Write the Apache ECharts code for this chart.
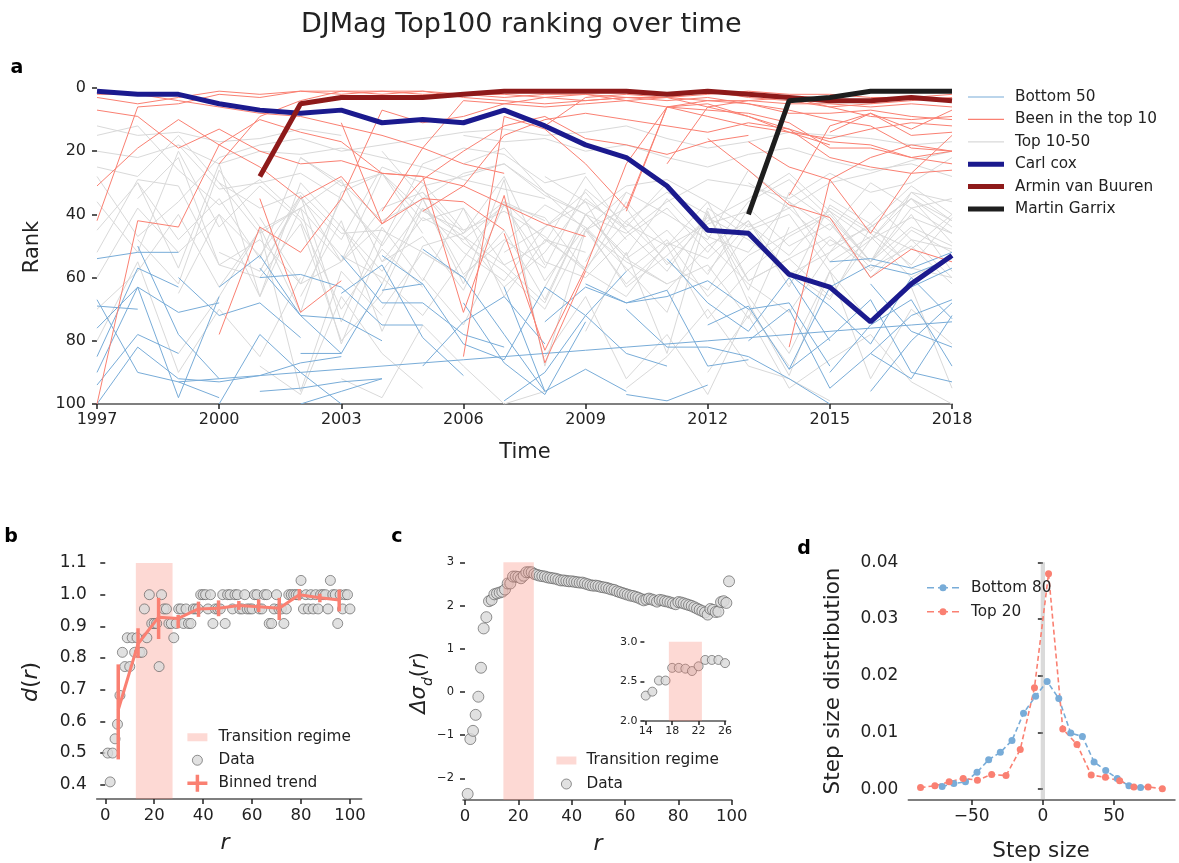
<!DOCTYPE html>
<html><head><meta charset="utf-8">
<script src="https://cdn.jsdelivr.net/npm/echarts@6/dist/echarts.min.js"></script>
<style>html,body{margin:0;padding:0;background:#fff}#c{width:1179px;height:863px}</style>
</head><body><div id="c"></div>
<script>
// ---------------- Panel a data ----------------
const firstYear = 1997;
const yearTicks = [1997, 2000, 2003, 2006, 2009, 2012, 2015, 2018];
const rankTicks = [0, 20, 40, 60, 80, 100];
const carlCoxStart = 1997;
const carlCox = [1, 2, 2, 5, 7, 8, 7, 11, 10, 11, 7, 12, 18, 22, 31, 45, 46, 59, 63, 74, 62, 53];
const arminStart = 2001;
const arminVanBuuren = [28, 5, 3, 3, 3, 2, 1, 1, 1, 1, 2, 1, 2, 3, 4, 4, 3, 4];
const garrixStart = 2013;
const martinGarrix = [40, 4, 3, 1, 1, 1];
// [start year, ranks]
const redLines = [
  [1997, [3,5,3,1,2,1,1,1,2,2,3,2,2,3,3,4,4,5,5,6,5,6]],
  [1997, [7,9,19,13,20,24,23,27,28,31,37,43,47]],
  [1997, [31,19,10,18,25,35,28,43,35,36,45]],
  [1997, [42,6,5,2,3,1,2,1,1,2,2,3,4,3,3,2,1,2,2,3,3,2]],
  [1997, [100,42,44,18,10,14,17,27,28,71,34,87,58]],
  [2000, [78,44,52,35,7,11,9,5,6,5,4,6,9,12,14,16,13,11,12]],
  [2001, [35,71,61]],
  [2000, [24,9,4,1,2,1,3,4,5,4,3,4,3,5,8,8,7,9,10]],
  [2004, [39,19,4,5,3,2,4,3,6,9,13,22,25,27,26]],
  [2005, [39,31,15,10,8,10,12,14,11,13,17,18,22,20]],
  [2006, [85,9,13,24,38,6,4,5,7,10,12,19,20]],
  [2007, [46,83,57]],
  [2010, [39,6,7,8,11,19,19,22,24]],
  [2012, [16,26,37,41,60,51,55]],
  [2014, [82,29,46,27,15]],
  [2014, [34,12,8,15,14]],
  [2015, [14,8,13,7]],
  [2013, [17,25,29,22,18,20]],
  [2003, [11,43,29,20,12,9,16,18,21,17,15]],
  [1997, [2,2,4,6,8,9,12,15,19,24,27]],
  [2008, [12,3,2,3,1,3,4,6,5,4,3]],
  [2011, [24,6,4,3,6,9,10,9]],
  [2009, [57,24,6,5,9,14,18]]
];
const grayLines = [
  [1997, [25,28,15,30,38,33,46,45,52,60]],
  [1997, [15,12,26,37,29,41,55,43]],
  [1997, [45,30,48,35,54,22,31,27,39,45]],
  [1997, [60,38,52,40,66,30,44,58,41,48,37,56]],
  [1997, [36,52,20,44,31,42,70,51,63]],
  [1997, [52,29,31,56,48,62,35,49,24,19,21,30,27]],
  [1997, [28,47,36,22,18,16,20,18,16,14,13,15,14,12,16,19,17,14,15,16,18,17]],
  [1997, [70,58,40,63,45,38,53,60,72,54,36,42]],
  [1998, [48,62,26,44,71,33,27,46]],
  [1998, [35,22,56,60,43,80,65,38,52,61,44,33,48]],
  [1999, [65,40,53,34,55,27,42,38,66,48,52]],
  [1999, [18,32,30,27,35,50,31,28,24,34,40,31,29,36,44,38,30,27,23,20]],
  [2000, [52,58,34,74,44,61,38,56,49,28,45]],
  [2000, [30,46,38,29,55,47,64,37,41,58,36,50,43,39]],
  [2001, [41,62,55,38,33,49,58,70,45,55,62]],
  [2001, [58,35,48,25,30,45,39,47,58,66,49,54,42,63,37,45,51,40]],
  [2002, [66,42,77,50,46,36,61,44,57,71,38,47]],
  [2002, [22,30,42,35,27,24,33,40,46,36,29,31,35,27,33,30,22]],
  [2003, [44,62,35,59,48,57,32,43,50,36,61,54,47,58,45,52]],
  [2004, [55,38,47,63,52,35,45,58,40,64,33,42,60,48,51]],
  [2004, [70,52,60,45,67,40,54,62,56,73,44]],
  [2005, [33,46,28,55,60,47,38,52,36,29,41,55,38,46]],
  [2005, [60,75,49,37,44,63,53,41,48,58,67,44,35,49]],
  [2006, [47,56,68,40,53,35,49,62,71,52,43,57,60]],
  [2006, [24,19,33,45,38,56,42,35,27,39,48,33,36]],
  [2007, [52,44,36,58,48,66,53,46,39,55,44,50]],
  [2007, [36,48,57,42,33,40,61,54,66,48,41,46]],
  [2008, [63,40,54,45,59,38,50,43,57,50,62]],
  [2008, [28,36,44,30,47,52,36,45,30,38,35]],
  [2009, [45,62,50,73,58,47,40,55,33,42]],
  [2009, [55,33,40,48,26,36,55,47,60,53]],
  [2010, [42,55,64,45,40,58,48,35,44]],
  [2011, [64,50,42,59,52,36,48,60]],
  [2012, [58,43,53,38,46,56,41]],
  [2013, [30,38,50,44,35,42]],
  [2014, [62,48,55,40,58]],
  [2010, [95,85,70,88,92,99]],
  [2003, [92,98,75,88,100,96]],
  [2015, [35,43,31,40]],
  [1997, [20,22,18,24,20,21,19,22,25,29,32,35]],
  [1997, [12,15,14,17,16,13,15]],
  [2006, [15,17,16,20,18,22,25,21,19,23,26,24,28]],
  [1997, [80,55,90,70,85,60]],
  [2008, [85,66,92,78,97,70,88]],
  [2001, [88,97,66,84,95]],
  [2012, [90,72,95,86,78,93,100]],
  [1998, [30,57,24,66,38,81,49]],
  [2004, [20,35,62,29,88,45,33]],
  [2009, [77,52,84,39,68,91,58,74,63,95]],
  [1999, [84,66,45,96,58,72]],
  [2013, [66,84,58,92,70,81]]
];
const blueLines = [
  [1997, [54,52,52]],
  [1997, [67,90,93,98]],
  [1997, [69,70]],
  [1997, [76,63,71,68]],
  [1997, [85,57,63]],
  [1997, [90,63,98,66]],
  [1997, [100,82,92,93,91,87,85]],
  [1997, [94,78,84]],
  [1998, [50,78,92]],
  [1999, [60,72,68,79]],
  [2000, [63,53,72,73,80]],
  [2000, [100,78,90,100]],
  [2001, [60,59,63,75,75]],
  [2001, [57,72,84,62]],
  [2001, [96,95,93,92]],
  [2002, [84,84]],
  [2003, [53,68,68,78,82]],
  [2003, [65,56,79,91]],
  [2004, [64,62]],
  [2004, [53,62,81,86,63,72,84,88]],
  [2005, [51,60,78,96]],
  [2006, [68,87,97,74]],
  [1999, [93,92,91,90,89,88,87,86,85,84,83,82,81,80,79,78,77,76,75,74]],
  [2007, [63,96,89,96]],
  [2008, [74,63,68,64,88,86]],
  [2009, [62,68,66,61,70,68,88]],
  [2010, [70,82,82,85,92,100]],
  [2011, [54,68,77,60,80]],
  [2012, [75,69,89,63,56,59,54]],
  [2013, [80,70,95,84,72,67]],
  [2014, [59,69,81,60,73]],
  [2015, [55,54,57,52]],
  [2015, [90,75,67,88]],
  [2016, [62,77,82]],
  [2016, [96,80,68]],
  [2014, [89,79,67,90,93]],
  [2016, [84,92,72]],
  [2010, [97,99,94]],
  [2002, [100,96,92]],
  [2005, [88,74,66,81]],
  [2007, [99,90,72,58]],
  [2017, [63,57]]
];

// ---------------- Panel b data ----------------
const bR = [1,2,3,4,5,6,7,8,9,10,11,12,13,14,15,16,17,18,19,20,21,22,23,24,25,26,27,28,29,30,31,32,33,34,35,36,37,38,39,40,41,42,43,44,45,46,47,48,49,50,51,52,53,54,55,56,57,58,59,60,61,62,63,64,65,66,67,68,69,70,71,72,73,74,75,76,77,78,79,80,81,82,83,84,85,86,87,88,89,90,91,92,93,94,95,96,97,98,99,100];
const bD = [0.5,0.409,0.5,0.545,0.591,0.682,0.818,0.773,0.864,0.773,0.864,0.818,0.864,0.818,0.818,0.955,0.864,1.0,0.909,0.909,0.909,0.773,1.0,0.955,0.955,0.909,0.909,0.864,0.909,0.955,0.955,0.909,0.955,0.909,0.909,0.955,0.955,0.955,1.0,1.0,1.0,0.955,1.0,0.909,0.955,0.955,0.955,1.0,0.909,1.0,1.0,0.955,1.0,1.0,0.955,0.955,1.0,0.955,0.955,0.955,1.0,1.0,0.955,0.955,1.0,1.0,0.909,0.909,0.955,1.0,0.955,0.955,0.909,0.955,1.0,1.0,1.0,1.0,1.0,1.045,0.955,1.0,0.955,1.0,0.955,1.0,0.955,1.0,1.0,1.0,0.955,1.045,1.0,1.0,0.909,1.0,0.955,1.0,1.0,0.955];
const trendR = [5.3, 13.4, 21.8, 29.8, 38.1, 46.3, 54.6, 62.7, 71.1, 79.3, 87.7, 95.6];
const trendD = [0.636, 0.845, 0.929, 0.925, 0.955, 0.957, 0.966, 0.962, 0.957, 1.0, 0.99, 0.983];
const trendLo = [0.48, 0.80, 0.86, 0.894, 0.93, 0.932, 0.952, 0.945, 0.92, 0.982, 0.976, 0.947];
const trendHi = [0.78, 0.894, 0.99, 0.936, 0.978, 0.982, 0.98, 0.985, 0.99, 1.018, 1.003, 1.016];
const bTransition = [12.5, 27.5];

// ---------------- Panel c data ----------------
const cR = [1,2,3,4,5,6,7,8,9,10,11,12,13,14,15,16,17,18,19,20,21,22,23,24,25,26,27,28,29,30,31,32,33,34,35,36,37,38,39,40,41,42,43,44,45,46,47,48,49,50,51,52,53,54,55,56,57,58,59,60,61,62,63,64,65,66,67,68,69,70,71,72,73,74,75,76,77,78,79,80,81,82,83,84,85,86,87,88,89,90,91,92,93,94,95,96,97,98,99];
const cD = [-2.36,-1.09,-0.9,-0.53,-0.11,0.56,1.47,1.73,2.1,2.13,2.26,2.28,2.3,2.32,2.37,2.51,2.51,2.67,2.67,2.66,2.63,2.69,2.77,2.77,2.77,2.73,2.71,2.69,2.68,2.67,2.65,2.64,2.63,2.62,2.6,2.58,2.58,2.57,2.56,2.56,2.55,2.54,2.53,2.53,2.51,2.49,2.47,2.46,2.46,2.45,2.43,2.42,2.41,2.39,2.37,2.36,2.33,2.31,2.29,2.27,2.25,2.23,2.22,2.2,2.18,2.15,2.12,2.14,2.16,2.14,2.12,2.09,2.13,2.12,2.1,2.09,2.07,2.05,2.03,2.08,2.07,2.05,2.03,2.01,1.99,1.96,1.93,1.9,1.87,1.84,1.79,1.92,1.9,1.85,1.86,2.08,2.1,2.06,2.56];
const cTransition = [14.4, 25.8];
const insetTransition = [17.5, 22.5];

// ---------------- Panel d data ----------------
const dBottomX = [-70.8,-62.6,-54.4,-46.3,-38.1,-29.9,-21.7,-13.6,-5.1,3,11.2,19.6,27.8,36,44.2,52.3,60.5,68.7];
const dBottomY = [0.0005,0.001,0.0013,0.003,0.0052,0.0065,0.0086,0.0134,0.0164,0.019,0.016,0.0099,0.0093,0.0048,0.0033,0.0019,0.0006,0.0003];
const dTopX = [-86,-75.9,-65.9,-56,-46,-36,-25.9,-15.9,-5.9,4,14,24,34,44,54,64,74,84];
const dTopY = [0.0003,0.0006,0.0013,0.0019,0.0016,0.0026,0.0024,0.007,0.0179,0.038,0.0106,0.0079,0.0025,0.0021,0.0015,0.0004,0.0004,0.0001];
const dZeroBand = [-1.5, 1.5];

// ---------------- styling ----------------
const FF = 'DejaVu Sans';
const TXT = '#222';
const SPINE = '#555';
const BLUE = '#78acd8';
const SALMON = '#fa8072';
const GRAY = '#d9d9d9';
const NAVY = '#1b1a8e';
const DARKRED = '#8e1a1a';
const BLACK = '#1e1e1e';
const SHADE = 'rgba(250,128,114,0.3)';
const minus = v => (v < 0 ? '\u2212' + Math.abs(v) : String(v));

const chart = echarts.init(document.getElementById('c'), null, {width: 1179, height: 863});

function spaghetti(name, start, vals, color, width, z) {
  return {
    type: 'line', name, xAxisIndex: 0, yAxisIndex: 0,
    data: vals.map((v, i) => [start - firstYear + i, v]),
    symbol: 'none', showSymbol: false,
    lineStyle: {color, width}, itemStyle: {color},
    z, silent: true, emphasis: {disabled: true}
  };
}
function band(name, xi, yi, range, color, z) {
  return {
    type: 'custom', name, xAxisIndex: xi, yAxisIndex: yi, z, silent: true,
    itemStyle: {color},
    data: [range],
    renderItem: (params, api) => {
      const x0 = api.coord([api.value(0), 0])[0];
      const x1 = api.coord([api.value(1), 0])[0];
      const cs = params.coordSys;
      return {type: 'rect', shape: {x: x0, y: cs.y, width: x1 - x0, height: cs.height}, style: {fill: color}};
    }
  };
}
function tickAxis(extra) {
  return Object.assign({
    type: 'value', splitLine: {show: false},
    axisLine: {show: false},
    axisTick: {show: true, length: 5, lineStyle: {color: TXT, width: 1.5}},
    axisLabel: {color: TXT, fontFamily: FF, fontSize: 16}
  }, extra);
}

const series = [];
grayLines.forEach(l => series.push(spaghetti('Top 10-50', l[0], l[1], GRAY, 1, 2)));
blueLines.forEach(l => series.push(spaghetti('Bottom 50', l[0], l[1], BLUE, 1, 3)));
redLines.forEach(l => series.push(spaghetti('Been in the top 10', l[0], l[1], SALMON, 1, 4)));
series.push(spaghetti('Carl cox', carlCoxStart, carlCox, NAVY, 5, 6));
series.push(spaghetti('Armin van Buuren', arminStart, arminVanBuuren, DARKRED, 5, 6));
series.push(spaghetti('Martin Garrix', garrixStart, martinGarrix, BLACK, 5, 6));

// panel b
series.push(band('Transition regime', 1, 1, bTransition, SHADE, 1));
series.push({type: 'scatter', name: 'Data', xAxisIndex: 1, yAxisIndex: 1, z: 2, silent: true,
  data: bR.map((r, i) => [r, bD[i]]), symbolSize: 10,
  itemStyle: {color: '#d9d9d9', borderColor: '#555', borderWidth: 0.8}});
series.push({type: 'line', name: 'Binned trend', xAxisIndex: 1, yAxisIndex: 1, z: 3, silent: true,
  data: trendR.map((r, i) => [r, trendD[i]]), symbol: 'none', lineStyle: {color: SALMON, width: 3}, itemStyle: {color: SALMON}});
series.push({type: 'custom', name: 'trendErr', xAxisIndex: 1, yAxisIndex: 1, z: 3, silent: true,
  data: trendR.map((r, i) => [r, trendLo[i], trendHi[i]]),
  encode: {x: 0, y: [1, 2]},
  renderItem: (params, api) => {
    const p1 = api.coord([api.value(0), api.value(1)]);
    const p2 = api.coord([api.value(0), api.value(2)]);
    return {type: 'line', shape: {x1: p1[0], y1: p1[1], x2: p2[0], y2: p2[1]}, style: {stroke: SALMON, lineWidth: 3.5}};
  }});

// panel c
series.push({type: 'scatter', name: 'Data', xAxisIndex: 2, yAxisIndex: 2, z: 2, silent: true,
  data: cR.map((r, i) => [r, cD[i]]), symbolSize: 11,
  itemStyle: {color: '#d9d9d9', borderColor: '#555', borderWidth: 0.8}});
series.push(band('Transition regime', 2, 2, cTransition, SHADE, 3));
// inset
series.push({type: 'scatter', name: 'insetData', xAxisIndex: 3, yAxisIndex: 3, z: 2, silent: true, clip: true,
  data: cR.map((r, i) => [r, cD[i]]).filter(p => p[0] >= 13 && p[0] <= 27), symbolSize: 9,
  itemStyle: {color: '#d9d9d9', borderColor: '#555', borderWidth: 0.8}});
series.push(band('insetShade', 3, 3, insetTransition, SHADE, 3));

// panel d
series.push(band('zeroBand', 4, 4, dZeroBand, 'rgba(150,150,150,0.35)', 1));
series.push({type: 'line', name: 'Bottom 80', xAxisIndex: 4, yAxisIndex: 4, z: 3, silent: true,
  data: dBottomX.map((x, i) => [x, dBottomY[i]]), symbol: 'circle', symbolSize: 7,
  lineStyle: {color: BLUE, width: 1.6, type: [5, 3]}, itemStyle: {color: BLUE}});
series.push({type: 'line', name: 'Top 20', xAxisIndex: 4, yAxisIndex: 4, z: 3, silent: true,
  data: dTopX.map((x, i) => [x, dTopY[i]]), symbol: 'circle', symbolSize: 7,
  lineStyle: {color: SALMON, width: 1.6, type: [5, 3]}, itemStyle: {color: SALMON}});

const spineLine = {show: true, onZero: false, lineStyle: {color: SPINE, width: 1.5}};
const legendText = size => ({color: TXT, fontFamily: FF, fontSize: size});
const thinIcon = 'path://M0,0M36,14M0,6.4h36v1.2h-36z';
const thickIcon = 'path://M0,0M36,14M0,4.5h36v5h-36z';
const dashIcon = 'path://M0,0M32,12M0,5.3h7v1.4h-7zM11,5.3h10v1.4h-10zM25,5.3h7v1.4h-7zM16,2.5A3.5,3.5,0,1,1,16,9.5A3.5,3.5,0,1,1,16,2.5Z';

const option = {
  animation: false,
  backgroundColor: '#fff',
  title: {text: 'DJMag Top100 ranking over time', left: 296, top: 6,
    textStyle: {fontFamily: FF, fontWeight: 'normal', fontSize: 27, color: TXT}},
  grid: [
    {left: 97, top: 88, width: 855, height: 316},
    {left: 96.7, top: 563, width: 265, height: 236},
    {left: 463, top: 562.3, width: 268.7, height: 237.7},
    {left: 644.4, top: 641.7, width: 81.3, height: 79.3},
    {left: 908.3, top: 562.3, width: 266.7, height: 237.7}
  ],
  xAxis: [
    tickAxis({gridIndex: 0, min: 0, max: yearTicks[yearTicks.length - 1] - firstYear, interval: 3,
      axisLine: spineLine, axisLabel: {color: TXT, fontFamily: FF, fontSize: 16, margin: 8, formatter: v => String(v + firstYear)}}),
    tickAxis({gridIndex: 1, min: -3.5, max: 104.8, axisLine: spineLine,
      axisTick: {show: true, length: 5, lineStyle: {color: TXT, width: 1.5}, customValues: [0, 20, 40, 60, 80, 100]},
      axisLabel: {color: TXT, fontFamily: FF, fontSize: 16.5, margin: 8, customValues: [0, 20, 40, 60, 80, 100]}}),
    tickAxis({gridIndex: 2, min: -0.75, max: 100, axisLine: spineLine,
      axisTick: {show: true, length: 5, lineStyle: {color: TXT, width: 1.5}, customValues: [0, 20, 40, 60, 80, 100]},
      axisLabel: {color: TXT, fontFamily: FF, fontSize: 16.5, margin: 8, customValues: [0, 20, 40, 60, 80, 100]}}),
    tickAxis({gridIndex: 3, min: 13.8, max: 26.1, axisLine: spineLine,
      axisTick: {show: true, length: 4, lineStyle: {color: TXT, width: 1.5}, customValues: [14, 18, 22, 26]},
      axisLabel: {color: TXT, fontFamily: FF, fontSize: 11, margin: 5, customValues: [14, 18, 22, 26]}}),
    tickAxis({gridIndex: 4, min: -94.6, max: 92.9, axisLine: spineLine,
      axisTick: {show: true, length: 5, lineStyle: {color: TXT, width: 1.5}, customValues: [-50, 0, 50]},
      axisLabel: {color: TXT, fontFamily: FF, fontSize: 17, margin: 8, customValues: [-50, 0, 50], formatter: v => minus(v)}})
  ],
  yAxis: [
    tickAxis({gridIndex: 0, min: rankTicks[0], max: rankTicks[rankTicks.length - 1], interval: 20, inverse: true,
      axisLabel: {color: TXT, fontFamily: FF, fontSize: 16, margin: 11}}),
    tickAxis({gridIndex: 1, min: 0.355, max: 1.1,
      axisTick: {show: true, length: 5, lineStyle: {color: TXT, width: 1.5}, customValues: [0.4, 0.5, 0.6, 0.7, 0.8, 0.9, 1.0, 1.1]},
      axisLabel: {color: TXT, fontFamily: FF, fontSize: 17, margin: 10, customValues: [0.4, 0.5, 0.6, 0.7, 0.8, 0.9, 1.0, 1.1], formatter: v => v.toFixed(1)}}),
    tickAxis({gridIndex: 2, min: -2.5, max: 3,
      axisTick: {show: true, length: 5, lineStyle: {color: TXT, width: 1.5}, customValues: [-2, -1, 0, 1, 2, 3]},
      axisLabel: {color: TXT, fontFamily: FF, fontSize: 11.5, margin: 9, customValues: [-2, -1, 0, 1, 2, 3], formatter: v => minus(v)}}),
    tickAxis({gridIndex: 3, min: 2, max: 3,
      axisTick: {show: true, length: 4, lineStyle: {color: TXT, width: 1.5}, customValues: [2, 2.5, 3]},
      axisLabel: {color: TXT, fontFamily: FF, fontSize: 11, margin: 7, customValues: [2, 2.5, 3], formatter: v => v.toFixed(1)}}),
    tickAxis({gridIndex: 4, min: -0.0019, max: 0.04,
      axisTick: {show: true, length: 5, lineStyle: {color: TXT, width: 1.5}, customValues: [0, 0.01, 0.02, 0.03, 0.04]},
      axisLabel: {color: TXT, fontFamily: FF, fontSize: 17, margin: 10, customValues: [0, 0.01, 0.02, 0.03, 0.04], formatter: v => v.toFixed(2)}})
  ],
  legend: [
    {left: 963, top: 81, orient: 'vertical', itemWidth: 36, itemHeight: 14, itemGap: 0.4,
      textStyle: Object.assign(legendText(15.3), {lineHeight: 22, padding: [0, 0, 0, 6]}),
      selectedMode: false,
      data: [
        {name: 'Bottom 50', icon: thinIcon, itemStyle: {color: BLUE}},
        {name: 'Been in the top 10', icon: thinIcon, itemStyle: {color: SALMON}},
        {name: 'Top 10-50', icon: thinIcon, itemStyle: {color: GRAY}},
        {name: 'Carl cox', icon: thickIcon, itemStyle: {color: NAVY}},
        {name: 'Armin van Buuren', icon: thickIcon, itemStyle: {color: DARKRED}},
        {name: 'Martin Garrix', icon: thickIcon, itemStyle: {color: BLACK}}
      ]},
    {left: 181, top: 721, orient: 'vertical', itemWidth: 22, itemHeight: 17, itemGap: 0.5,
      textStyle: Object.assign(legendText(15.3), {lineHeight: 22.5, padding: [0, 0, 0, 5]}),
      selectedMode: false,
      data: [
        {name: 'Transition regime', icon: 'path://M0,-4.5M22,12.5M1,0h20v8h-20z', itemStyle: {color: SHADE}},
        {name: 'Data', icon: 'path://M-6,-3.5M16,13.5M5,0A5,5,0,1,1,5,10A5,5,0,1,1,5,0Z', itemStyle: {color: '#d9d9d9', borderColor: '#555', borderWidth: 0.8}},
        {name: 'Binned trend', icon: 'path://M0,-3.5M22,13.5M1,3.25h20v3.5h-20zM9.25,-3.5h3.5v17h-3.5z', itemStyle: {color: SALMON}}
      ]},
    {left: 550, top: 744, orient: 'vertical', itemWidth: 22, itemHeight: 17, itemGap: 0.5,
      textStyle: Object.assign(legendText(15.3), {lineHeight: 23, padding: [0, 0, 0, 4]}),
      selectedMode: false,
      data: [
        {name: 'Transition regime', icon: 'path://M0,-4.5M22,12.5M1,0h20v8h-20z', itemStyle: {color: SHADE}},
        {name: 'Data', icon: 'path://M-6,-3.5M16,13.5M5,0A5,5,0,1,1,5,10A5,5,0,1,1,5,0Z', itemStyle: {color: '#d9d9d9', borderColor: '#555', borderWidth: 0.8}}
      ]},
    {left: 922, top: 571, orient: 'vertical', itemWidth: 32, itemHeight: 12, itemGap: 0.5,
      textStyle: Object.assign(legendText(15.3), {lineHeight: 23.5, padding: [0, 0, 0, 7]}),
      selectedMode: false,
      data: [
        {name: 'Bottom 80', icon: dashIcon, itemStyle: {color: BLUE}},
        {name: 'Top 20', icon: dashIcon, itemStyle: {color: SALMON}}
      ]}
  ],
  graphic: [
    {type: 'text', x: 17, y: 68, style: {text: 'a', fontFamily: FF, fontWeight: 'bold', fontSize: 19, fill: '#000', align: 'center', verticalAlign: 'middle'}},
    {type: 'text', x: 11, y: 537, style: {text: 'b', fontFamily: FF, fontWeight: 'bold', fontSize: 19, fill: '#000', align: 'center', verticalAlign: 'middle'}},
    {type: 'text', x: 397, y: 537, style: {text: 'c', fontFamily: FF, fontWeight: 'bold', fontSize: 19, fill: '#000', align: 'center', verticalAlign: 'middle'}},
    {type: 'text', x: 804, y: 549, style: {text: 'd', fontFamily: FF, fontWeight: 'bold', fontSize: 19, fill: '#000', align: 'center', verticalAlign: 'middle'}},
    {type: 'text', x: 33, y: 247, rotation: Math.PI / 2, style: {text: 'Rank', fontFamily: FF, fontSize: 21, fill: TXT, align: 'center', verticalAlign: 'middle'}},
    {type: 'text', x: 525, y: 453, style: {text: 'Time', fontFamily: FF, fontSize: 21, fill: TXT, align: 'center', verticalAlign: 'middle'}},
    {type: 'text', x: 31, y: 682, rotation: Math.PI / 2, style: {text: '{i|d}({i|r})', fontFamily: FF, fontSize: 22, fill: TXT, align: 'center', verticalAlign: 'middle',
      rich: {i: {fontFamily: FF, fontStyle: 'italic', fontSize: 22, fill: TXT}}}},
    {type: 'text', x: 225, y: 843, style: {text: 'r', fontFamily: FF, fontStyle: 'italic', fontSize: 22, fill: TXT, align: 'center', verticalAlign: 'middle'}},
    {type: 'text', x: 420, y: 683, rotation: Math.PI / 2, style: {text: '{i|\u0394\u03c3}{s|d}({i|r})', fontFamily: FF, fontSize: 21, fill: TXT, align: 'center', verticalAlign: 'middle',
      rich: {i: {fontFamily: FF, fontStyle: 'italic', fontSize: 21, fill: TXT, lineHeight: 30}, s: {fontFamily: FF, fontStyle: 'italic', fontSize: 14, fill: TXT, verticalAlign: 'bottom', lineHeight: 30}}}},
    {type: 'text', x: 598, y: 844, style: {text: 'r', fontFamily: FF, fontStyle: 'italic', fontSize: 22, fill: TXT, align: 'center', verticalAlign: 'middle'}},
    {type: 'text', x: 833, y: 681, rotation: Math.PI / 2, style: {text: 'Step size distribution', fontFamily: FF, fontSize: 21.5, fill: TXT, align: 'center', verticalAlign: 'middle'}},
    {type: 'text', x: 1041, y: 851, style: {text: 'Step size', fontFamily: FF, fontSize: 21.5, fill: TXT, align: 'center', verticalAlign: 'middle'}}
  ],
  series
};
chart.setOption(option);
</script>
</body></html>
